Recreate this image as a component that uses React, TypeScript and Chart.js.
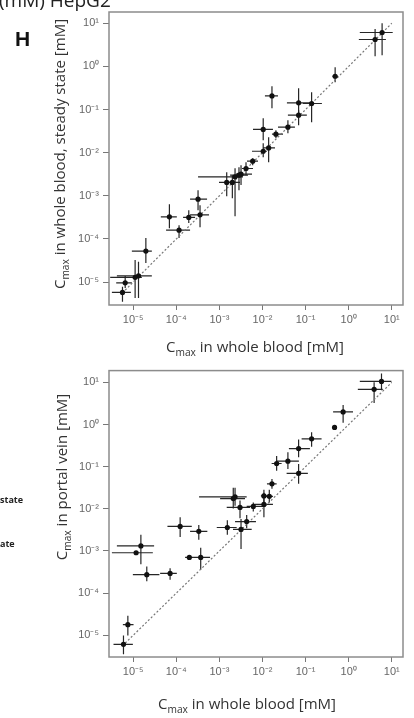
import React, { useEffect, useRef } from "react";
import { Chart, registerables } from "chart.js";

Chart.register(...registerables);

// ---- axis ticks ----
const TICK_VALUES = [1e-5, 1e-4, 1e-3, 1e-2, 1e-1, 1, 10];
const TICK_LABELS = ["10⁻⁵", "10⁻⁴", "10⁻³", "10⁻²", "10⁻¹", "10⁰", "10¹"];
const X_RANGE = [2.75e-6, 18.2];
const TOP_Y_RANGE = [2.95e-6, 18.2];
const BOT_Y_RANGE = [3.06e-6, 19.0];
const DIAG = [5.6e-6, 10];

// ---- top panel: whole blood vs whole blood steady state ----
const TOP_X = [5.96, 4.1, 0.485, 0.0166, 0.0689, 0.138, 0.0689, 0.0389, 0.0104, 0.0205, 0.0139, 0.0104, 0.00593, 0.00415, 0.00318, 0.00285, 0.00231, 0.002, 0.00148, 3.2e-4, 3.56e-4, 1.95e-4, 6.93e-5, 1.16e-4, 1.97e-5, 1.33e-5, 1.11e-5, 6.53e-6, 5.65e-6];
const TOP_Y = [6.1, 4.2, 0.59, 0.207, 0.143, 0.138, 0.074, 0.039, 0.0345, 0.0269, 0.0129, 0.0108, 0.00635, 0.0043, 0.00318, 0.00301, 0.00275, 0.00204, 0.00204, 8.38e-4, 3.63e-4, 3.16e-4, 3.26e-4, 1.6e-4, 5.24e-5, 1.4e-5, 1.29e-5, 9.64e-6, 5.78e-6];
const TOP_X_LO = [1.81, 1.72, 0.42, 0.0114, 0.0369, 0.0867, 0.0389, 0.0229, 0.00603, 0.0166, 0.0103, 0.00571, 0.00438, 0.00335, 0.00243, 0.00177, 3.2e-4, 0.00143, 9.8e-4, 2.09e-4, 2.09e-4, 1.44e-4, 4.38e-5, 5.8e-5, 9.33e-6, 4.19e-6, 2.93e-6, 4.04e-6, 3.21e-6];
const TOP_X_HI = [10.5, 7.3, 0.56, 0.0229, 0.14, 0.239, 0.107, 0.0566, 0.0175, 0.0299, 0.0195, 0.0127, 0.00787, 0.00603, 0.00571, 0.00461, 0.00353, 0.00301, 0.00243, 5.18e-4, 5.75e-4, 2.73e-4, 1.03e-4, 2.09e-4, 2.71e-5, 2.71e-5, 1.59e-5, 9.33e-6, 8.85e-6];
const TOP_Y_LO = [1.82, 1.72, 0.43, 0.107, 0.074, 0.051, 0.0434, 0.0283, 0.0195, 0.0217, 0.00603, 0.00787, 0.00514, 0.00301, 0.00177, 0.00135, 3.38e-4, 8.83e-4, 9.8e-4, 4.66e-4, 1.88e-4, 2.33e-4, 1.78e-4, 1.05e-4, 2.76e-5, 4.27e-6, 4.27e-6, 7.26e-6, 3.5e-6];
const TOP_Y_HI = [10, 7.3, 0.96, 0.348, 0.312, 0.252, 0.0966, 0.0566, 0.063, 0.0332, 0.0229, 0.0166, 0.00746, 0.00603, 0.00514, 0.00461, 0.00438, 0.00301, 0.00353, 0.00135, 6.08e-4, 4.66e-4, 6.41e-4, 2.09e-4, 1.05e-4, 2.96e-5, 3.24e-5, 1.38e-5, 7.8e-6];

// ---- bottom panel: whole blood vs portal vein ----
const BOT_X = [5.77, 3.89, 0.743, 0.47, 0.138, 0.0689, 0.0389, 0.0213, 0.0689, 0.0166, 0.0108, 0.0144, 0.0108, 0.00231, 0.0021, 0.00612, 0.00301, 0.0043, 0.00318, 0.00153, 1.23e-4, 3.33e-4, 1.51e-5, 1.17e-5, 2.01e-4, 3.69e-4, 2.07e-5, 7.19e-5, 7.53e-6, 5.96e-6];
const BOT_Y = [10.5, 6.85, 1.99, 0.855, 0.458, 0.268, 0.135, 0.119, 0.0697, 0.0392, 0.0202, 0.0198, 0.0127, 0.0192, 0.0175, 0.0114, 0.0108, 0.005, 0.00325, 0.00361, 0.00382, 0.00292, 0.00132, 9.08e-4, 7.05e-4, 7.05e-4, 2.74e-4, 2.93e-4, 1.79e-5, 6.1e-6];
const BOT_X_LO = [1.81, 1.63, 0.435, 0.47, 0.0809, 0.041, 0.0213, 0.0163, 0.0363, 0.0127, 0.0092, 0.012, 0.00603, 3.38e-4, 0.00104, 0.0043, 0.00148, 0.00231, 0.00207, 8.69e-4, 6.24e-5, 2.09e-4, 4.19e-6, 3.21e-6, 1.6e-4, 2.45e-4, 9.84e-6, 4.22e-5, 5.77e-6, 3.5e-6];
const BOT_X_HI = [9.8, 6.18, 1.26, 0.47, 0.235, 0.126, 0.07, 0.0278, 0.113, 0.0213, 0.0127, 0.0175, 0.0175, 0.0043, 0.00393, 0.0108, 0.00513, 0.00706, 0.00562, 0.00252, 2.29e-4, 5.26e-4, 3.06e-5, 2.86e-5, 2.45e-4, 6.08e-4, 4.06e-5, 1.03e-4, 1.02e-5, 9.84e-6];
const BOT_Y_LO = [6.5, 3.23, 1.1, 0.855, 0.298, 0.168, 0.0879, 0.0802, 0.0392, 0.03, 0.0141, 0.0141, 0.0063, 0.0118, 0.0102, 0.0087, 0.00597, 0.00348, 0.00111, 0.00243, 0.00215, 0.00186, 4.84e-4, 9.08e-4, 7.05e-4, 3.58e-4, 1.91e-4, 2.09e-4, 9.89e-6, 3.56e-6];
const BOT_Y_HI = [16.2, 10, 2.9, 0.855, 0.653, 0.442, 0.219, 0.18, 0.115, 0.0513, 0.0284, 0.0284, 0.0242, 0.0316, 0.0316, 0.0141, 0.0157, 0.00713, 0.00574, 0.00536, 0.0063, 0.00416, 0.00243, 9.08e-4, 7.05e-4, 0.00119, 4.28e-4, 3.9e-4, 2.9e-5, 9.89e-6];

function tickLabel(v: number): string {
  const i = TICK_VALUES.findIndex((t) => Math.abs(Math.log10(t) - Math.log10(v)) < 1e-6);
  return i >= 0 ? TICK_LABELS[i] : "";
}

type PanelProps = {
  top: number;
  height: number;
  padTop: number;
  xAxisHeight: number;
  yRange: number[];
  xs: number[];
  ys: number[];
  xLo: number[];
  xHi: number[];
  yLo: number[];
  yHi: number[];
};

const tickFont = { family: "'Liberation Sans', Arial, sans-serif", size: 11 };

function LogPanel(p: PanelProps) {
  const ref = useRef<HTMLCanvasElement>(null);
  useEffect(() => {
    if (!ref.current) return;
    const errPlugin = {
      id: "errbars",
      beforeDatasetsDraw(chart: any) {
        const { ctx, chartArea: a } = chart;
        const sx = chart.scales.x;
        const sy = chart.scales.y;
        ctx.save();
        ctx.beginPath();
        ctx.rect(a.left, a.top, a.right - a.left, a.bottom - a.top);
        ctx.clip();
        ctx.strokeStyle = "#262626";
        ctx.lineWidth = 1.2;
        p.xs.forEach((xv, i) => {
          const px = sx.getPixelForValue(xv);
          const py = sy.getPixelForValue(p.ys[i]);
          ctx.beginPath();
          ctx.moveTo(sx.getPixelForValue(p.xLo[i]), py);
          ctx.lineTo(sx.getPixelForValue(p.xHi[i]), py);
          ctx.moveTo(px, sy.getPixelForValue(p.yLo[i]));
          ctx.lineTo(px, sy.getPixelForValue(p.yHi[i]));
          ctx.stroke();
        });
        ctx.restore();
      },
    };
    const framePlugin = {
      id: "frame",
      afterDatasetsDraw(chart: any) {
        const { ctx, chartArea: a } = chart;
        ctx.save();
        ctx.strokeStyle = "#8c8c8c";
        ctx.lineWidth = 1.5;
        ctx.strokeRect(a.left, a.top, a.right - a.left, a.bottom - a.top);
        ctx.restore();
      },
    };
    const chart = new Chart(ref.current, {
      type: "scatter",
      data: {
        datasets: [
          {
            type: "line",
            data: DIAG.map((v) => ({ x: v, y: v })),
            borderColor: "#777",
            borderWidth: 1.2,
            borderDash: [2, 2],
            pointRadius: 0,
            fill: false,
            showLine: true,
            order: 2,
          } as any,
          {
            data: p.xs.map((xv, i) => ({ x: xv, y: p.ys[i] })),
            pointRadius: 2.6,
            backgroundColor: "#111",
            borderWidth: 0,
            order: 1,
          },
        ],
      },
      options: {
        animation: false,
        responsive: false,
        events: [],
        layout: { padding: { top: p.padTop, right: 11, left: 0, bottom: 0 } },
        plugins: { legend: { display: false }, tooltip: { enabled: false } },
        scales: {
          x: {
            type: "logarithmic",
            min: X_RANGE[0],
            max: X_RANGE[1],
            bounds: "data",
            afterBuildTicks: (s: any) => {
              s.ticks = TICK_VALUES.map((v) => ({ value: v }));
            },
            afterFit: (s: any) => {
              s.height = p.xAxisHeight;
            },
            ticks: {
              callback: (v: any) => tickLabel(Number(v)),
              autoSkip: false,
              maxRotation: 0,
              padding: 3,
              color: "#666",
              font: tickFont,
            },
            grid: { drawOnChartArea: false, tickLength: 5, color: "#777", lineWidth: 1 },
            border: { display: false },
          },
          y: {
            type: "logarithmic",
            min: p.yRange[0],
            max: p.yRange[1],
            bounds: "data",
            afterBuildTicks: (s: any) => {
              s.ticks = TICK_VALUES.map((v) => ({ value: v }));
            },
            afterFit: (s: any) => {
              s.width = 109;
            },
            ticks: {
              callback: (v: any) => tickLabel(Number(v)),
              autoSkip: false,
              padding: 4,
              color: "#666",
              font: tickFont,
            },
            grid: { drawOnChartArea: false, tickLength: 6, color: "#777", lineWidth: 1 },
            border: { display: false },
          },
        },
      } as any,
      plugins: [errPlugin, framePlugin],
    });
    return () => chart.destroy();
  }, []);
  return (
    <canvas
      ref={ref}
      width={414}
      height={p.height}
      style={{ position: "absolute", left: 0, top: p.top, width: 414, height: p.height }}
    />
  );
}

const titleStyle: React.CSSProperties = {
  position: "absolute",
  fontFamily: "'Open Sans', sans-serif",
  fontSize: 15,
  color: "#333",
  whiteSpace: "nowrap",
  lineHeight: "18px",
};

function Cmax() {
  return (
    <span>
      C<span style={{ fontSize: "0.68em", position: "relative", top: "0.35em" }}>max</span>
    </span>
  );
}

export default function App() {
  return (
    <div style={{ position: "absolute", left: 0, top: 0, width: 414, height: 718, background: "#fff", overflow: "hidden" }}>
      <LogPanel
        top={0}
        height={360}
        padTop={12}
        xAxisHeight={55}
        yRange={TOP_Y_RANGE}
        xs={TOP_X}
        ys={TOP_Y}
        xLo={TOP_X_LO}
        xHi={TOP_X_HI}
        yLo={TOP_Y_LO}
        yHi={TOP_Y_HI}
      />
      <LogPanel
        top={360}
        height={358}
        padTop={6}
        xAxisHeight={61}
        yRange={BOT_Y_RANGE}
        xs={BOT_X}
        ys={BOT_Y}
        xLo={BOT_X_LO}
        xHi={BOT_X_HI}
        yLo={BOT_Y_LO}
        yHi={BOT_Y_HI}
      />
      <div style={{ ...titleStyle, left: 255, top: 347, transform: "translate(-50%, -50%)" }}>
        <Cmax /> in whole blood [mM]
      </div>
      <div style={{ ...titleStyle, left: 247, top: 704, transform: "translate(-50%, -50%)" }}>
        <Cmax /> in whole blood [mM]
      </div>
      <div style={{ ...titleStyle, left: 60, top: 154, transform: "translate(-50%, -50%) rotate(-90deg)" }}>
        <Cmax /> in whole blood, steady state [mM]
      </div>
      <div style={{ ...titleStyle, left: 62, top: 477, transform: "translate(-50%, -50%) rotate(-90deg)" }}>
        <Cmax /> in portal vein [mM]
      </div>
      <div
        style={{
          position: "absolute",
          left: 15,
          top: 27,
          fontFamily: "'Liberation Sans', Arial, sans-serif",
          fontWeight: "bold",
          fontSize: 21,
          lineHeight: "24px",
          color: "#111",
        }}
      >
        H
      </div>
      <div
        style={{
          position: "absolute",
          left: -1,
          top: -11,
          fontFamily: "'Open Sans', sans-serif",
          fontSize: 19,
          lineHeight: "22px",
          color: "#222",
          whiteSpace: "nowrap",
        }}
      >
        (mM) HepG2
      </div>
      <div style={{ position: "absolute", left: 0, top: 494, fontFamily: "'Open Sans', sans-serif", fontWeight: "bold", fontSize: 9, lineHeight: "11px", color: "#222" }}>
        state
      </div>
      <div style={{ position: "absolute", left: 0, top: 538, fontFamily: "'Open Sans', sans-serif", fontWeight: "bold", fontSize: 9, lineHeight: "11px", color: "#222" }}>
        ate
      </div>
    </div>
  );
}
